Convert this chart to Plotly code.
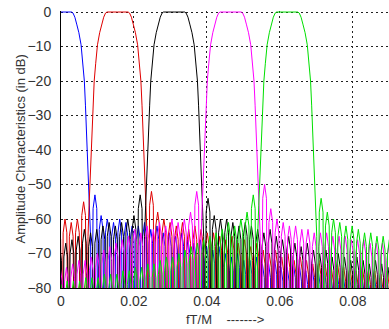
import plotly.graph_objects as go

# ---- data ----
centers = [0.0, 0.0155, 0.031, 0.0465, 0.062]          # band centres (fT/M)
colors = ['#0000ff', '#e00000', '#000000', '#ff00ff', '#00e000']

# passband / transition profile: distance from band centre, amplitude (dB)
edge_off = [0.0, 0.0029, 0.0033, 0.0038, 0.0043, 0.0049, 0.0055, 0.0060,
            0.0064, 0.0067, 0.0070, 0.0073, 0.0076, 0.0078, 0.0081, 0.0084]
edge_db = [0.0, 0.0, -0.3, -1.5, -3.5, -6.0, -9.5, -15.0,
           -20.0, -27.0, -35.0, -43.0, -50.0, -56.0, -65.0, -110.0]

# stopband side-lobe peaks (dB), listed outward from each band edge
lobe_first = 0.0093   # distance of first side-lobe peak from band centre
lobe_step = 0.0017    # side-lobe spacing

stop_left = [
    [],
    [-55, -60, -61, -60, -62],
    [-53, -59, -60, -61, -62, -61, -62, -63, -64, -63, -65, -66, -67, -68],
    [-52, -58, -60, -61, -60, -62, -61, -63, -62, -64, -63, -65, -66, -67,
     -68, -69, -70, -71, -72, -72, -73, -74, -74],
    [-53, -58, -60, -62, -61, -63, -64, -65, -66, -67, -68, -69, -70, -71,
     -71, -72, -73, -73, -74, -74, -75, -75, -76, -76, -76, -77, -77, -77,
     -78, -78, -78, -79],
]
stop_right = [
    [-53, -59, -60, -61, -60, -61, -62, -62, -61, -63, -62, -64, -64, -65,
     -64, -66, -67, -66, -68, -69, -68, -70, -71, -70, -72, -72, -71, -73,
     -73, -72, -74, -74, -73, -74, -75, -74, -75, -75, -76, -75, -76, -76,
     -75, -76, -77, -76, -77, -77],
    [-52, -58, -60, -61, -62, -61, -63, -62, -63, -64, -64, -65, -66, -65,
     -67, -66, -68, -67, -69, -70, -69, -71, -70, -72, -71, -72, -73, -72,
     -73, -74, -73, -74, -74, -75, -74, -75, -75, -76, -75, -76],
    [-54, -59, -60, -60, -61, -62, -61, -62, -63, -64, -63, -65, -66, -65,
     -67, -68, -67, -69, -70, -69, -71, -70, -71, -72, -71, -72, -73, -72,
     -73, -74],
    [-50, -57, -60, -61, -62, -62, -63, -63, -64, -64, -64, -65, -65, -65,
     -66, -66, -66, -67, -67, -67, -68],
    [-54, -58, -60, -61, -62, -62, -63, -64, -64, -65, -65, -66],
]

x_ticks = [0, 0.02, 0.04, 0.06, 0.08]
x_labels = ['0', '0.02', '0.04', '0.06', '0.08']
y_ticks = [0, -10, -20, -30, -40, -50, -60, -70, -80]


def build(c, left, right, one_sided):
    pts = []
    sides = [1] if one_sided else [1, -1]
    for s in sides:
        for o, v in zip(edge_off, edge_db):
            pts.append((c + s * o, v))
    for s, peaks in ((-1, left), (1, right)):
        for i, p in enumerate(peaks):
            d = lobe_first + i * lobe_step
            pts.append((c + s * (d - 0.3 * lobe_step), p - 4))
            pts.append((c + s * d, p))
            pts.append((c + s * (d + 0.3 * lobe_step), p - 4))
            pts.append((c + s * (d + 0.5 * lobe_step), -110))
    pts.sort(key=lambda t: t[0])
    return [t[0] for t in pts], [t[1] for t in pts]


fig = go.Figure()
for k, c in enumerate(centers):
    xs, ys = build(c, stop_left[k], stop_right[k], k == 0)
    fig.add_trace(go.Scatter(x=xs, y=ys, mode='lines',
                             line=dict(color=colors[k], width=1),
                             showlegend=False, hoverinfo='skip'))

font = 'Liberation Sans, Arial, sans-serif'
fig.update_layout(
    width=389, height=329,
    margin=dict(l=61, r=0, t=11, b=41),
    paper_bgcolor='white', plot_bgcolor='white',
    font=dict(family=font, size=14, color='#333333'),
    xaxis=dict(range=[0, 0.0899], tickvals=x_ticks, ticktext=x_labels,
               showgrid=True, gridcolor='#222222', griddash='2px,3px',
               gridwidth=1, zeroline=False, showline=True,
               linecolor='black', linewidth=1, ticks='',
               ticklabelstandoff=0),
    yaxis=dict(range=[-80, 0.3], tickvals=y_ticks,
               showgrid=True, gridcolor='#222222', griddash='2px,3px',
               gridwidth=1, zeroline=False, showline=True,
               linecolor='black', linewidth=1, ticks='',
               ticklabelstandoff=6),
    annotations=[
        dict(text='Amplitude Characteristics (in dB)', textangle=-90,
             xref='paper', yref='paper', x=-0.125, y=0.5,
             xanchor='center', yanchor='middle', showarrow=False,
             font=dict(family=font, size=13, color='#333333')),
        dict(text='fT/M\u00a0\u00a0\u00a0\u00a0-------&gt;',
             xref='paper', yref='paper', x=0.5, y=-0.115,
             xanchor='center', yanchor='middle', showarrow=False,
             font=dict(family=font, size=13, color='#333333')),
    ],
)

fig.write_html('out.html')
